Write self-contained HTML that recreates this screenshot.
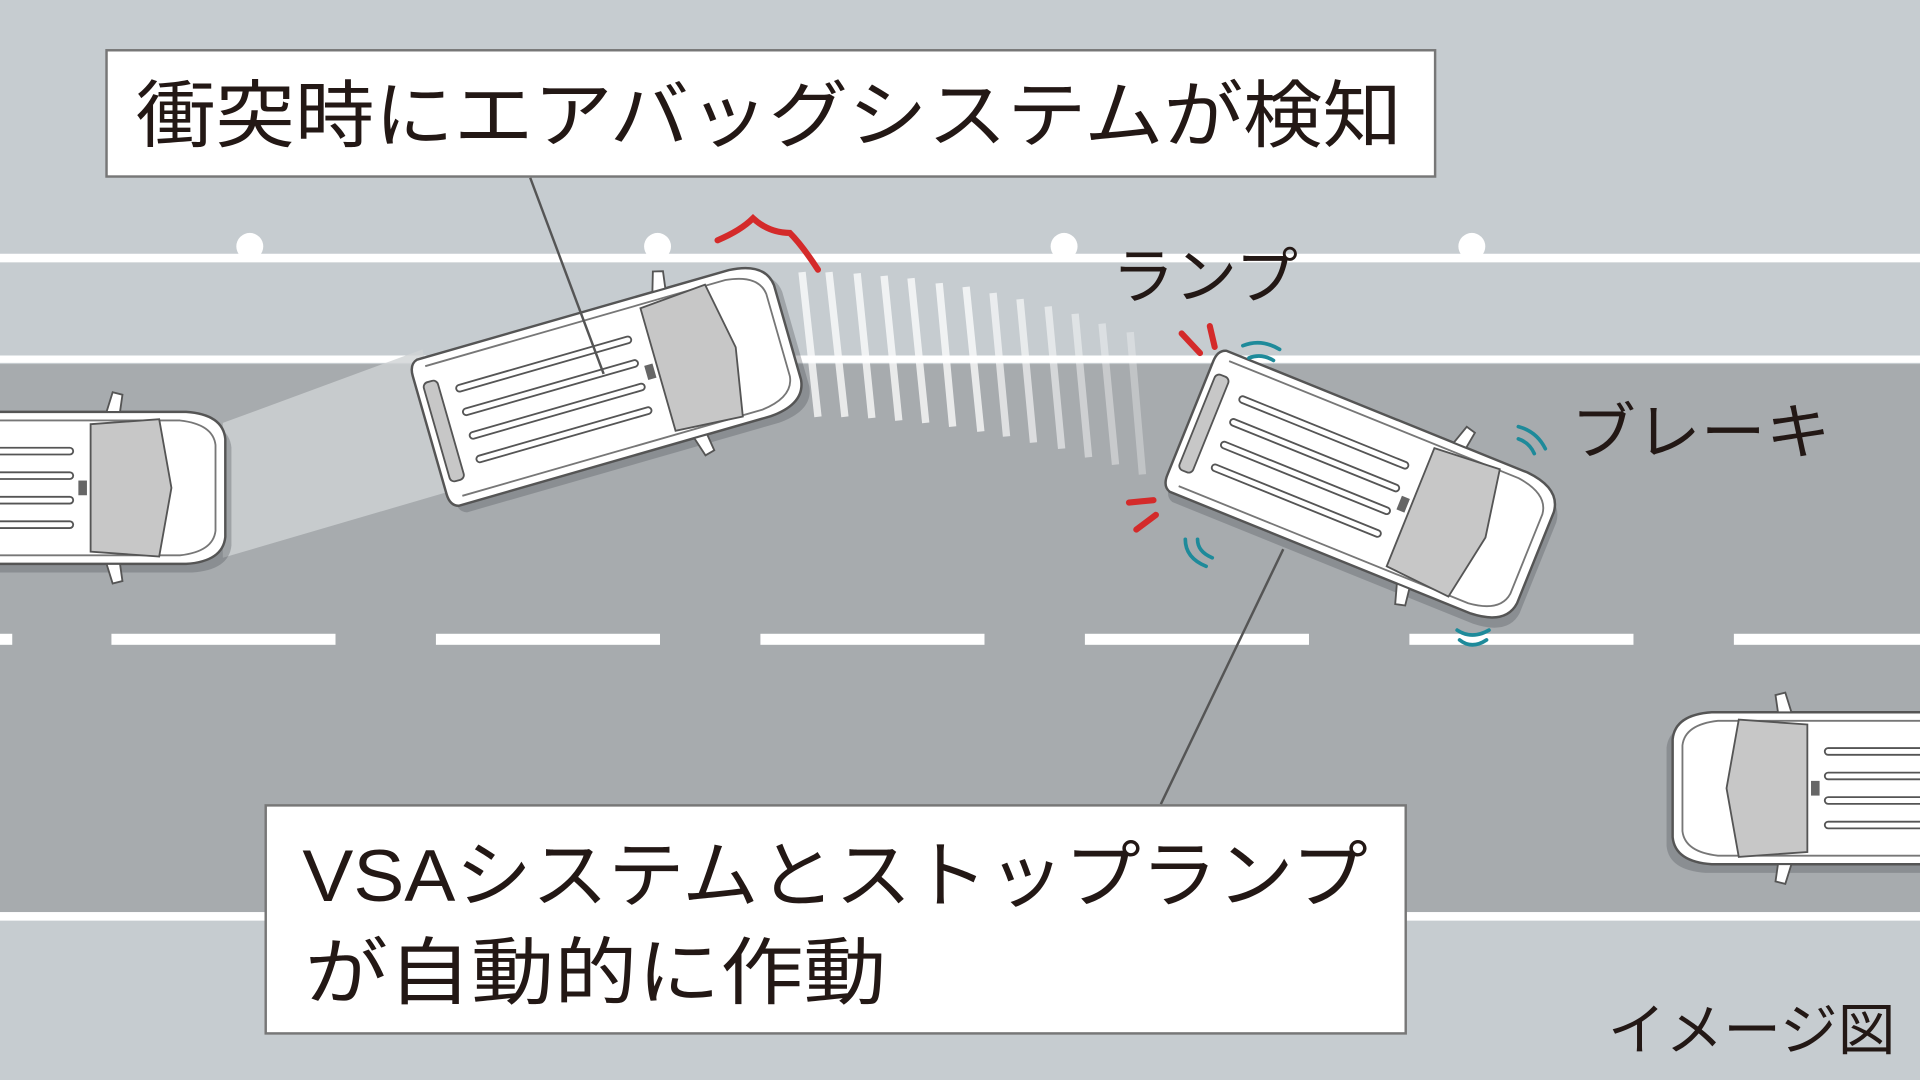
<!DOCTYPE html>
<html><head><meta charset="utf-8"><style>html,body{margin:0;padding:0;background:#c6ccd0;overflow:hidden}svg{display:block}</style></head><body>
<svg width="1920" height="1080" viewBox="0 0 1568 881" preserveAspectRatio="none" xmlns="http://www.w3.org/2000/svg">
<defs>
<g id="car">
<path d="M-145,-62 L120,-62 Q150,-60 152,-40 L152,40 Q150,60 120,62 L-145,62 Q-152,60 -152,50 L-152,-50 Q-152,-60 -145,-62Z" fill="#565a5e" opacity="0.35" transform="translate(5,7)"/>
<path d="M-145,-62 L120,-62 Q150,-60 152,-40 L152,40 Q150,60 120,62 L-145,62 Q-152,60 -152,50 L-152,-50 Q-152,-60 -145,-62Z" fill="#fff" stroke="#555" stroke-width="2"/>
<path d="M-140,-55 L115,-55 Q142,-52 144,-35 L144,35 Q142,52 115,55 L-140,55" fill="none" stroke="#777" stroke-width="1.5"/>
<polygon points="42,-52 98,-56 108,0 98,56 42,52" fill="#c7c7c7" stroke="#555" stroke-width="1.5"/>
<rect x="-146" y="-42" width="12" height="84" rx="4" fill="#c7c7c7" stroke="#555" stroke-width="1.5"/>
<g stroke="#555" stroke-width="7" stroke-linecap="round"><line x1="-118" y1="-30" x2="25" y2="-30"/><line x1="-118" y1="-10" x2="25" y2="-10"/><line x1="-118" y1="10" x2="25" y2="10"/><line x1="-118" y1="30" x2="25" y2="30"/></g>
<g stroke="#fff" stroke-width="4" stroke-linecap="round"><line x1="-118" y1="-30" x2="25" y2="-30"/><line x1="-118" y1="-10" x2="25" y2="-10"/><line x1="-118" y1="10" x2="25" y2="10"/><line x1="-118" y1="30" x2="25" y2="30"/></g>
<path d="M55,-62 L60,-78 L68,-76 L66,-62Z M55,62 L60,78 L68,76 L66,62Z" fill="#fff" stroke="#555" stroke-width="1.5"/>
<rect x="32" y="-6" width="7" height="12" fill="#666"/>
</g>
</defs>
<rect width="1568" height="881" fill="#c6ccd0"/>
<rect y="297" width="1568" height="450" fill="#a7abae"/>
<rect y="207" width="1568" height="7" fill="#fff"/>
<rect y="290" width="1568" height="6" fill="#fff"/>
<rect y="744" width="1568" height="7" fill="#fff"/>
<g fill="#fff"><circle cx="204" cy="201" r="11"/><circle cx="537" cy="201" r="11"/><circle cx="869" cy="201" r="11"/><circle cx="1202" cy="201" r="11"/></g>
<g fill="#fff"><rect x="0" y="517" width="10" height="9"/><rect x="91" y="517" width="183" height="9"/><rect x="356" y="517" width="183" height="9"/><rect x="621" y="517" width="183" height="9"/><rect x="886" y="517" width="183" height="9"/><rect x="1151" y="517" width="183" height="9"/><rect x="1416" y="517" width="152" height="9"/></g>
<polygon points="182,345 345,285 370,400 182,455" fill="#d0d3d5" opacity="0.8"/>
<g stroke="#fff" stroke-width="6" opacity="0.75">
<line x1="655" y1="222" x2="668" y2="340"/><line x1="677" y1="222" x2="690" y2="340"/><line x1="700" y1="223" x2="712" y2="341"/><line x1="722" y1="225" x2="734" y2="343"/><line x1="744" y1="227" x2="756" y2="345"/><line x1="767" y1="231" x2="778" y2="348"/><line x1="789" y1="234" x2="801" y2="352"/><line x1="811" y1="239" x2="822" y2="356" opacity="0.85"/><line x1="833" y1="244" x2="844" y2="361" opacity="0.8"/><line x1="856" y1="250" x2="867" y2="366" opacity="0.7"/><line x1="878" y1="256" x2="889" y2="373" opacity="0.6"/><line x1="900" y1="264" x2="911" y2="379" opacity="0.5"/><line x1="923" y1="271" x2="933" y2="387" opacity="0.4"/></g>
<use href="#car" transform="translate(32,398)"/>
<use href="#car" transform="translate(497,313) rotate(-16)"/>
<use href="#car" transform="translate(1113,398) rotate(22)"/>
<use href="#car" transform="translate(1518,643) scale(-1,1)"/>
<g fill="none" stroke="#d42a2a" stroke-width="5" stroke-linecap="round">
<path d="M586,196 Q605,188 615,178 Q628,190 645,190 Q655,200 668,220"/>
<line x1="965" y1="272" x2="980" y2="288"/><line x1="988" y1="266" x2="992" y2="283"/><line x1="922" y1="410" x2="942" y2="408"/><line x1="928" y1="432" x2="944" y2="420"/></g>
<g fill="none" stroke="#1e8a9a" stroke-width="3" stroke-linecap="round">
<path d="M1015,282 Q1030,276 1045,285"/><path d="M1020,292 Q1030,288 1040,294"/>
<path d="M1240,348 Q1255,352 1262,366"/><path d="M1240,358 Q1249,361 1253,370"/>
<path d="M968,440 Q968,455 985,462"/><path d="M978,440 Q978,450 990,455"/>
<path d="M1190,514 Q1202,522 1216,514"/><path d="M1192,522 Q1202,530 1214,522"/></g>
<g stroke="#555" stroke-width="2"><line x1="433" y1="145" x2="493" y2="305"/><line x1="948" y1="656" x2="1048" y2="448"/></g>
<rect x="87" y="41" width="1085" height="103" fill="#fff" stroke="#777" stroke-width="2"/>
<rect x="217" y="657" width="931" height="186" fill="#fff" stroke="#777" stroke-width="2"/>
<g font-family="'Liberation Sans','Noto Sans CJK JP',sans-serif" fill="#231815">
<text x="111" y="115" font-size="60" textLength="1034" lengthAdjust="spacingAndGlyphs">衝突時にエアバッグシステムが検知</text>
<text x="247" y="735" font-size="60" textLength="870" lengthAdjust="spacingAndGlyphs">VSAシステムとストップランプ</text>
<text x="249" y="814" font-size="60" textLength="475" lengthAdjust="spacingAndGlyphs">が自動的に作動</text>
<text x="908" y="243" font-size="50" textLength="152" lengthAdjust="spacingAndGlyphs">ランプ</text>
<text x="1283" y="370" font-size="50" textLength="212" lengthAdjust="spacingAndGlyphs">ブレーキ</text>
<text x="1313" y="856" font-size="46" textLength="235" lengthAdjust="spacingAndGlyphs">イメージ図</text>
</g>
</svg>
</body></html>
